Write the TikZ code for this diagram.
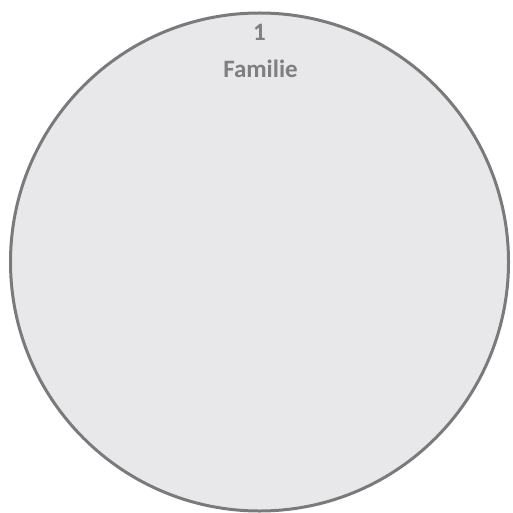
\documentclass[tikz,border=0pt]{standalone}
\usepackage{fontspec}
\setmainfont{Carlito}
\definecolor{circfill}{HTML}{E8E8EA}
\definecolor{circline}{HTML}{7A7A7C}
\definecolor{txtgray}{HTML}{7F7F7F}
\begin{document}
\begin{tikzpicture}[x=1pt,y=-1pt,
  lbl/.style={text=txtgray,font=\bfseries\fontsize{25}{28}\selectfont,inner sep=0pt,anchor=base}]
\useasboundingbox (0,0) rectangle (512,513);
\node[circle,draw=circline,fill=circfill,line width=3pt,minimum size=498pt,inner sep=0pt] (c) at (259.5,262) {};
\node[lbl] (num) at (259.5,41) {1};
\node[lbl] (fam) at (260.5,78) {Familie};
\end{tikzpicture}
\end{document}
